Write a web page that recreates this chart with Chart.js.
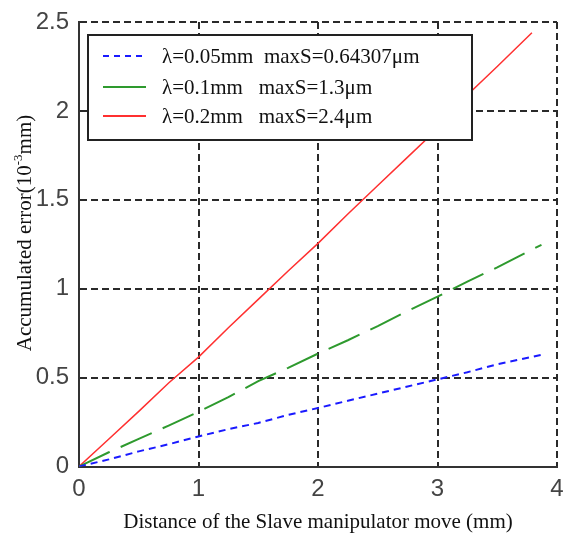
<!DOCTYPE html>
<html>
<head>
<meta charset="utf-8">
<script src="https://cdn.jsdelivr.net/npm/chart.js@4.4.1/dist/chart.umd.min.js"></script>
<style>
  html, body { margin: 0; padding: 0; background: #fff; }
  #wrap { width: 566px; height: 537px; }
</style>
</head>
<body>
<div id="wrap"><canvas id="myChart" width="566" height="537"></canvas></div>
<script>
// DATA
const seriesLabels = [
    "\u03bb=0.05mm  maxS=0.64307\u03bcm",
    "\u03bb=0.1mm   maxS=1.3\u03bcm",
    "\u03bb=0.2mm   maxS=2.4\u03bcm"
];

const blueX = [0, 0.25, 0.5, 0.75, 1, 1.25, 1.5, 1.75, 2, 2.25, 2.5, 2.75, 3, 3.25, 3.5, 3.9];
const blueY = [0, 0.04, 0.085, 0.125, 0.169, 0.21, 0.245, 0.29, 0.329, 0.37, 0.41, 0.45, 0.49, 0.53, 0.575, 0.632];

const greenX = [0, 0.25, 0.5, 0.75, 1, 1.25, 1.5, 1.75, 2, 2.25, 2.5, 2.75, 3, 3.25, 3.5, 3.87];
const greenY = [0, 0.08, 0.155, 0.23, 0.308, 0.39, 0.48, 0.555, 0.635, 0.71, 0.79, 0.875, 0.955, 1.04, 1.12, 1.247];

const redX = [0, 0.25, 0.5, 0.75, 1, 1.25, 1.5, 1.75, 2, 2.25, 2.5, 2.75, 3, 3.25, 3.5, 3.79];
const redY = [0, 0.155, 0.31, 0.47, 0.615, 0.78, 0.94, 1.10, 1.255, 1.42, 1.58, 1.74, 1.90, 2.09, 2.25, 2.44];

const xTicks = [0, 1, 2, 3, 4];
const yTicks = [0, 0.5, 1, 1.5, 2, 2.5];

const xTitle = "Distance of the Slave manipulator move (mm)";
const yTitleParts = ["Accumulated error(10", "-3", "mm)"];

const toPoints = (xs, ys) => xs.map((x, i) => ({x: x, y: ys[i]}));

// legend drawn inside the plot, like the original
const boxLegend = {
    id: "boxLegend",
    afterDraw(chart) {
        const ctx = chart.ctx;
        const left = 88, top = 35, w = 384, h = 105;
        ctx.save();
        ctx.fillStyle = "#fff";
        ctx.fillRect(left, top, w, h);
        ctx.strokeStyle = "#222";
        ctx.lineWidth = 2;
        ctx.setLineDash([]);
        ctx.strokeRect(left, top, w, h);
        const rows = [56, 87, 116];
        chart.data.datasets.forEach((ds, i) => {
            ctx.strokeStyle = ds.borderColor;
            ctx.lineWidth = 2;
            ctx.setLineDash(i == 0 ? [6, 5] : []);
            ctx.beginPath();
            ctx.moveTo(103, rows[i]);
            ctx.lineTo(146, rows[i]);
            ctx.stroke();
            ctx.setLineDash([]);
            ctx.fillStyle = "#111";
            ctx.font = "21px 'Liberation Serif'";
            ctx.textBaseline = "middle";
            ctx.fillText(ds.label, 162, rows[i] + 1);
        });
        ctx.restore();
    }
};

// y title with a real superscript
const yTitle = {
    id: "yTitle",
    afterDraw(chart) {
        const ctx = chart.ctx;
        const big = "21px 'Liberation Serif'";
        const small = "13px 'Liberation Serif'";
        ctx.save();
        ctx.font = big;
        const w0 = ctx.measureText(yTitleParts[0]).width;
        const w2 = ctx.measureText(yTitleParts[2]).width;
        ctx.font = small;
        const w1 = ctx.measureText(yTitleParts[1]).width;
        const total = w0 + w1 + w2;
        ctx.translate(24, 233);
        ctx.rotate(-Math.PI / 2);
        ctx.fillStyle = "#111";
        ctx.textBaseline = "alphabetic";
        let x = -total / 2;
        ctx.font = big;
        ctx.fillText(yTitleParts[0], x, 7);
        x += w0;
        ctx.font = small;
        ctx.fillText(yTitleParts[1], x, -2);
        x += w1;
        ctx.font = big;
        ctx.fillText(yTitleParts[2], x, 7);
        ctx.restore();
    }
};

const gridStyle = { color: "#2a2a2a", lineWidth: 2, drawTicks: false };
const borderStyle = { color: "#333", width: 2, dash: [7, 4] };
const tickFont = { family: "'Liberation Sans', Arial", size: 24 };

const config = {
    type: "scatter",
    data: {
        datasets: [
            {
                label: seriesLabels[0],
                data: toPoints(blueX, blueY),
                showLine: true,
                borderColor: "#1a1aff",
                borderWidth: 2,
                borderDash: [7, 5],
                pointRadius: 0
            },
            {
                label: seriesLabels[1],
                data: toPoints(greenX, greenY),
                showLine: true,
                borderColor: "#2e9a2e",
                borderWidth: 2,
                borderDash: [34, 12],
                pointRadius: 0
            },
            {
                label: seriesLabels[2],
                data: toPoints(redX, redY),
                showLine: true,
                borderColor: "#ff3030",
                borderWidth: 1.5,
                pointRadius: 0
            }
        ]
    },
    options: {
        responsive: false,
        animation: false,
        layout: { padding: { top: 22, right: 9, left: 0, bottom: 0 } },
        plugins: {
            legend: { display: false },
            tooltip: { enabled: false }
        },
        scales: {
            x: {
                type: "linear",
                min: 0,
                max: 4,
                afterBuildTicks: (scale) => { scale.ticks = xTicks.map(v => ({value: v})); },
                afterFit: (scale) => {
                    scale.height = 70.5;
                    scale.paddingLeft = 0;
                    scale.paddingRight = 0;
                },
                grid: gridStyle,
                border: borderStyle,
                ticks: {
                    color: "#444",
                    padding: 8,
                    maxRotation: 0,
                    font: tickFont,
                    callback: (v) => String(v)
                },
                title: {
                    display: true,
                    text: xTitle,
                    color: "#111",
                    font: { family: "'Liberation Serif'", size: 21 },
                    padding: { top: 4, bottom: 2 }
                }
            },
            y: {
                type: "linear",
                min: 0,
                max: 2.5,
                afterBuildTicks: (scale) => { scale.ticks = yTicks.map(v => ({value: v})); },
                afterFit: (scale) => {
                    scale.width = 79;
                    scale.paddingTop = 0;
                    scale.paddingBottom = 0;
                },
                grid: gridStyle,
                border: borderStyle,
                ticks: {
                    color: "#444",
                    padding: 10,
                    font: tickFont,
                    callback: (v) => String(v)
                },
                title: { display: false }
            }
        }
    },
    plugins: [boxLegend, yTitle]
};

var myChart = new Chart(document.querySelector("#myChart"), config);
</script>
</body>
</html>
